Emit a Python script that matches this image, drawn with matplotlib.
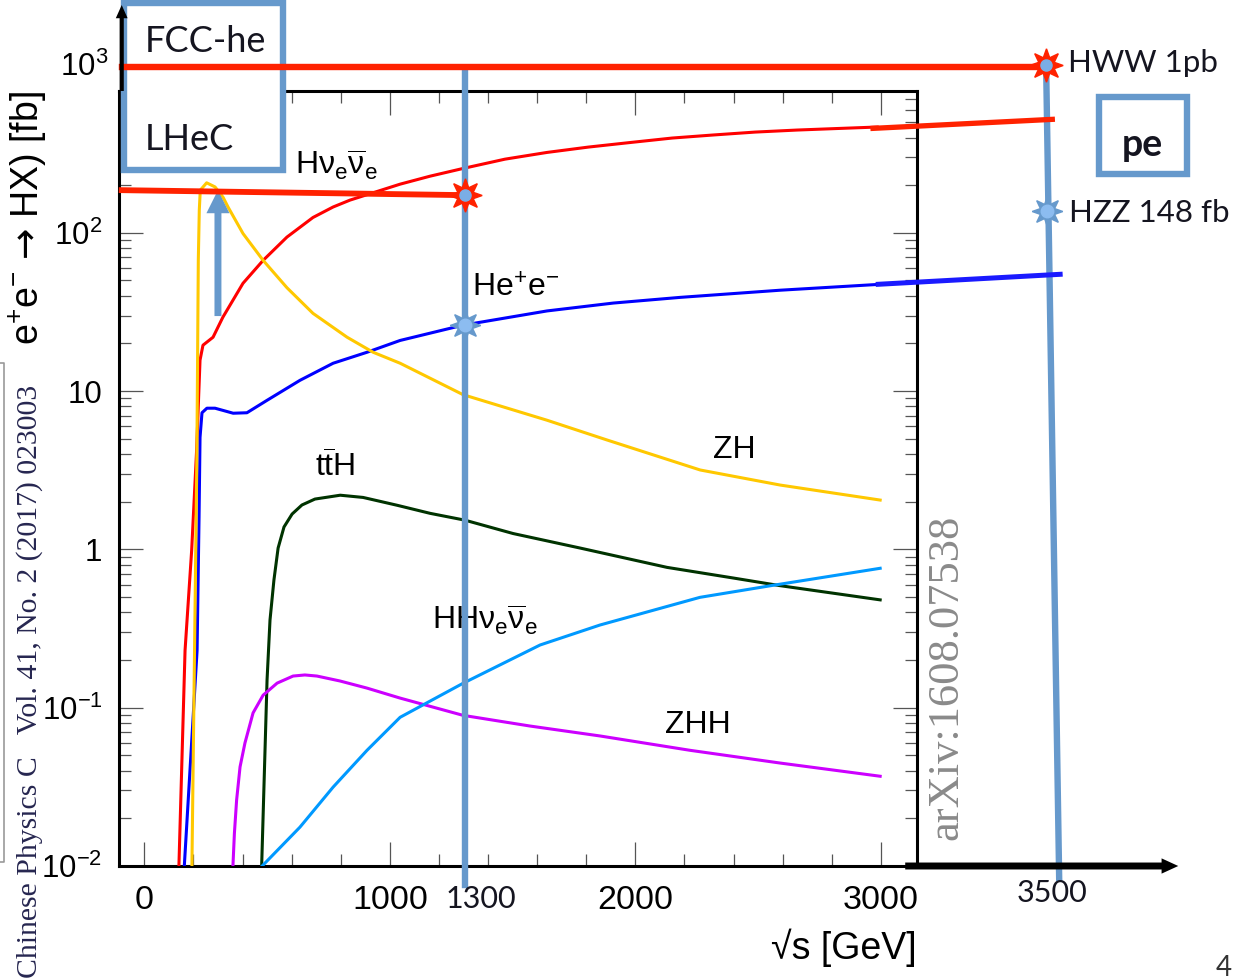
import matplotlib
matplotlib.use("Agg")
import matplotlib.pyplot as plt
from matplotlib.patches import Rectangle
from matplotlib.lines import Line2D
from matplotlib.ticker import LogLocator, MultipleLocator, NullFormatter

plt.rcParams['font.family'] = ['Liberation Sans', 'DejaVu Sans']
plt.rcParams['mathtext.fontset'] = 'custom'
plt.rcParams['mathtext.rm'] = 'Liberation Sans'
plt.rcParams['mathtext.it'] = 'Liberation Sans:italic'
plt.rcParams['mathtext.bf'] = 'Liberation Sans:bold'
plt.rcParams['mathtext.sf'] = 'DejaVu Sans'

# cross sections [fb] vs sqrt(s) [GeV]
hnn_x = [141, 166, 193, 213, 227, 239, 280, 320, 402, 484, 581, 687, 769, 838, 1042, 1164, 1298,
         1469, 1640, 1808, 1979, 2150, 2317, 2488, 2659, 2822, 2985]
hnn_y = [0.01, 0.23, 0.99, 4.2, 15.7, 19.5, 21.9, 29.3, 48, 67, 94, 125, 145.6, 161, 203, 228, 255,
         292, 322, 348, 372, 397, 415, 433, 446, 456, 466]

hee_x = [163, 215, 223, 227, 235, 255, 288, 362, 418, 500, 634, 769, 907, 1042, 1298, 1640, 1910, 2182, 2590, 2997]
hee_y = [0.01, 0.23, 1.6, 5.1, 7.3, 7.8, 7.8, 7.25, 7.3, 8.75, 11.7, 15.0, 17.6, 20.9, 26.1, 32.1, 36.0, 39.1, 43.4, 47.3]

zh_x = [194, 214, 220, 224, 228, 254, 288, 321, 341, 402, 484, 581, 687, 826, 932, 1042, 1298, 1640, 1885,
        2264, 2590, 2997]
zh_y = [0.01, 3.67, 67.3, 139, 186, 207, 195, 167.5, 145.6, 99, 67, 45, 31, 21.9, 17.6, 15.0, 9.5, 6.55, 4.91,
        3.175, 2.55, 2.05]

tth_x = [478, 500, 512, 528, 545, 569, 602, 642, 695, 798, 891, 1030, 1164, 1306, 1502, 1775, 2129, 2398, 2590, 2997]
tth_y = [0.01, 0.15, 0.358, 0.641, 1.02, 1.386, 1.673, 1.908, 2.08, 2.2, 2.13, 1.9, 1.69, 1.53, 1.26, 1.02, 0.77,
         0.66, 0.59, 0.48]

zhh_x = [361, 367, 376, 390, 410, 443, 484, 541, 606, 654, 703, 797, 907, 1042, 1298, 1571, 1856, 2223, 2590, 2997]
zhh_y = [0.01, 0.0161, 0.0261, 0.0423, 0.0599, 0.0927, 0.120, 0.143, 0.1585, 0.161, 0.1585, 0.1475, 0.133, 0.115,
         0.0895, 0.0766, 0.0663, 0.0538, 0.0447, 0.0369]

hhnn_x = [480, 634, 769, 907, 1042, 1298, 1612, 1856, 2263, 2560, 2997]
hhnn_y = [0.01, 0.0176, 0.0315, 0.0538, 0.087, 0.1426, 0.249, 0.333, 0.498, 0.593, 0.76]

# slide overlay (not to the plot's scale: "3500" sits at ~3690 on the axis)
lhec_x = 1305
fcc_x = 3673
fcc_x_bottom = 3726
hww_level = 1115
hnn_level = [186, 173]
hnn_ext_x = [2968, 3698]
hnn_ext_y = [457, 521]
hee_ext_x = [2989, 3730]
hee_ext_y = [47.3, 54.7]
red_star_x = [lhec_x, fcc_x]
red_star_y = [173, 1150]
blue_star_x = [lhec_x, fcc_x + 3]
blue_star_y = [26.1, 137]

x_ticks = [0, 1000, 2000, 3000]
x_ticklabels = ['0', '1000', '2000', '3000']
y_ticks = [0.01, 0.1, 1, 10, 100]
y_ticklabels = [r'$10^{-2}$', r'$10^{-1}$', '1', '10', r'$10^{2}$']

RED = '#ff2200'
SLIDE_BLUE = '#6699cc'
SLIDE_FONT = ['Lato', 'DejaVu Sans']
SLIDE_TEXT = '#151520'

fig = plt.figure(figsize=(12.4, 9.8), dpi=100)
ax = fig.add_axes([119 / 1240, 1 - 866 / 980, 798 / 1240, 775 / 980])
ax.set_yscale('log')
ax.set_xlim(-103, 3147)
ax.set_ylim(0.01, 787)

curve_lw = 2.2
ax.plot(hnn_x, hnn_y, color='#ff0000', lw=curve_lw, zorder=3)
ax.plot(hee_x, hee_y, color='#0000ff', lw=curve_lw, zorder=3)
ax.plot(zh_x, zh_y, color='#ffc800', lw=curve_lw, zorder=3)
ax.plot(tth_x, tth_y, color='#003300', lw=curve_lw, zorder=3)
ax.plot(zhh_x, zhh_y, color='#cc00ff', lw=curve_lw, zorder=3)
ax.plot(hhnn_x, hhnn_y, color='#0099ff', lw=curve_lw, zorder=3)

# axes styling (ROOT look)
for s in ax.spines.values():
    s.set_linewidth(2.2)
ax.set_xticks(x_ticks, labels=x_ticklabels)
ax.xaxis.set_minor_locator(MultipleLocator(200))
ax.set_yticks(y_ticks, labels=y_ticklabels)
ax.yaxis.set_minor_locator(LogLocator(base=10, subs=range(2, 10), numticks=20))
ax.yaxis.set_minor_formatter(NullFormatter())
ax.tick_params(which='both', direction='in', top=True, right=True, color='#555555', width=0.9)
ax.tick_params(which='major', length=17)
ax.tick_params(which='minor', length=8.6)
ax.tick_params(axis='x', pad=14, labelsize=24.5)
ax.tick_params(axis='y', pad=12, labelsize=22.5)

lab = dict(fontsize=23, ha='left', va='baseline')
ax.text(615, 232, r'H$\mathrm{ν_{e}\overline{ν}_{e}}$', **lab)
ax.text(1335, 39.3, r'He$^{+}$e$^{-}$', **lab)
ax.text(695, 2.87, r'$\mathrm{t\overline{t}}$H', **lab)
ax.text(1172, 0.31, r'HH$\mathrm{ν_{e}\overline{ν}_{e}}$', **lab)
ax.text(2317, 3.78, 'ZH', **lab)
ax.text(2121, 0.0692, 'ZHH', **lab)

fig.text(28 / 1240, 1 - 218 / 980, r'e$^{+}$e$^{-}$ $\mathsf{→}$ HX) [fb]', rotation=90,
         ha='center', va='center', fontsize=27)
fig.text(917 / 1240, 1 - 948 / 980, '√s [GeV]', ha='right', va='center', fontsize=27)

# journal / arXiv stamps
fig.text(30 / 1240, 1 - 978 / 980, 'Chinese Physics C   Vol. 41, No. 2 (2017) 023003',
         rotation=90, ha='center', va='bottom', fontsize=21.4, family='Liberation Serif', color='#262650')
fig.add_artist(Line2D([0, 4 / 1240, 4 / 1240, 0], [1 - 363 / 980, 1 - 363 / 980, 1 - 862 / 980, 1 - 862 / 980],
                      transform=fig.transFigure, color='#999999', lw=1.2))
fig.text(946 / 1240, 1 - 677 / 980, 'arXiv:1608.07538', rotation=90, ha='center', va='center',
         fontsize=32, family='Liberation Serif', color='#8a8a8a')

# slide overlay
ov = dict(clip_on=False)
ax.plot([lhec_x, lhec_x], [1068, 0.0076], color=SLIDE_BLUE, lw=4.6, zorder=4, **ov)
ax.plot([fcc_x, fcc_x_bottom], [hww_level, 0.0084], color=SLIDE_BLUE, lw=4.6, zorder=4, **ov)
ax.plot(hnn_ext_x, hnn_ext_y, color=RED, lw=3.8, zorder=4, **ov)
ax.plot(hee_ext_x, hee_ext_y, color='#1a1aff', lw=3.6, zorder=4, **ov)
ax.annotate('', xy=(300, 186), xytext=(300, 29.8),
            arrowprops=dict(arrowstyle='simple,head_length=0.83,head_width=0.83,tail_width=0.25',
                            color=SLIDE_BLUE, lw=0, shrinkA=0, shrinkB=0, mutation_scale=20),
            annotation_clip=False, zorder=4)

ax.add_patch(Rectangle((-82, 249), 647, 2832 - 249, fc='white', ec=SLIDE_BLUE, lw=4.6, zorder=5, **ov))
ax.add_patch(Rectangle((3889, 235), 358, 721 - 235, fc='white', ec=SLIDE_BLUE, lw=4.6, zorder=5, **ov))

ax.plot([-92, fcc_x], [hww_level, hww_level], color=RED, lw=4.6, zorder=6, **ov)
ax.plot([-92, lhec_x], hnn_level, color=RED, lw=4.2, zorder=6, **ov)

ax.annotate('', xy=(-92, 2748), xytext=(-92, 787),
            arrowprops=dict(arrowstyle='simple,head_length=0.95,head_width=0.85,tail_width=0.3',
                            color='black', lw=0, shrinkA=0, shrinkB=0, mutation_scale=10),
            annotation_clip=False, zorder=7)
ax.annotate('', xy=(4211, 0.01), xytext=(3099, 0.01),
            arrowprops=dict(arrowstyle='simple,head_length=1.2,head_width=1.1,tail_width=0.5',
                            color='black', lw=0, shrinkA=0, shrinkB=0, mutation_scale=10),
            annotation_clip=False, zorder=7)

ax.plot(red_star_x, red_star_y, ls='none', marker=(8, 1, 0), ms=24, color=RED, zorder=8, **ov)
ax.plot(red_star_x, red_star_y, ls='none', marker='o', ms=8, color='#7aaee6', zorder=9, **ov)
ax.plot(blue_star_x, blue_star_y, ls='none', marker=(8, 1, 0), ms=22, color=SLIDE_BLUE, zorder=8, **ov)
ax.plot(blue_star_x, blue_star_y, ls='none', marker='o', ms=9, color='#8cbcf0', zorder=9, **ov)

st = dict(family=SLIDE_FONT, color=SLIDE_TEXT, va='baseline', zorder=10)
ax.text(3, 1387, 'FCC-he', fontsize=26, ha='left', **st)
ax.text(3, 334, 'LHeC', fontsize=26, ha='left', **st)
ax.text(3763, 1042, 'HWW 1pb', fontsize=22.5, ha='left', **st)
ax.text(3767, 117.5, 'HZZ 148 fb', fontsize=22.5, ha='left', **st)
ax.text(4064, 305, 'pe', fontsize=27, fontweight='bold', ha='center', **st)
ax.text(1372, 0.0054, '1300', fontsize=22, ha='center', **st)
ax.text(3698, 0.00595, '3500', fontsize=22, ha='center', **st)
ax.text(-148, hww_level, r'$10^{3}$', fontsize=22.5, ha='right', va='center', zorder=10)
fig.text(1224 / 1240, 4 / 980, '4', fontsize=20, family=SLIDE_FONT, color='#333333', ha='center', va='baseline')

fig.savefig('out.png', dpi=100, facecolor='white')
